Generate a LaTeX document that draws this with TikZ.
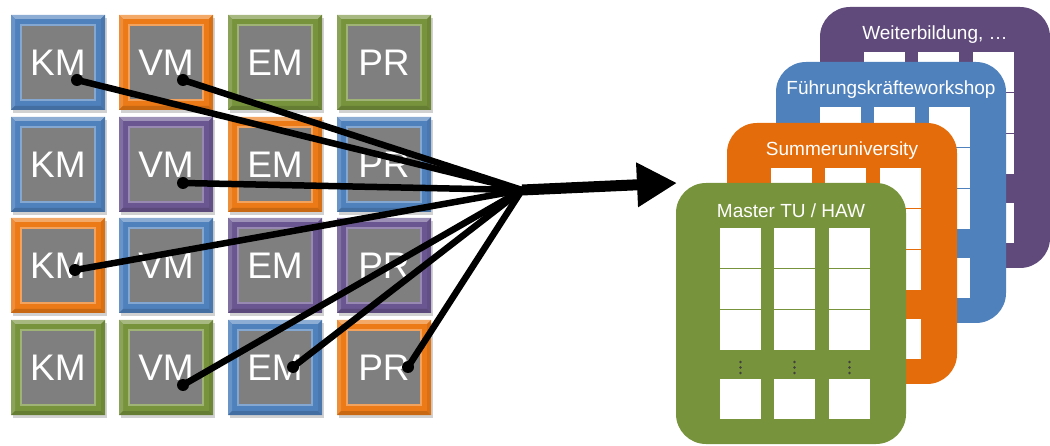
\documentclass[tikz,border=0pt]{standalone}
\usepackage{fontspec}
\setmainfont{Liberation Sans}
\usetikzlibrary{arrows.meta}
\definecolor{tblue}{HTML}{4F81BD}
\definecolor{torange}{HTML}{EC7A16}
\definecolor{tgreen}{HTML}{77933C}
\definecolor{tpurple}{HTML}{6A5690}
\definecolor{cgreen}{HTML}{77933C}
\definecolor{corange}{HTML}{E46C0A}
\definecolor{cblue}{HTML}{4F81BD}
\definecolor{cpurple}{HTML}{604A7B}
\definecolor{tgray}{HTML}{7F7F7F}
\tikzset{
  tilebox/.style={rectangle, fill=tgray, text=white, inner sep=0pt,
    minimum width=74pt, minimum height=75pt, font=\fontsize{37}{37}\selectfont},
  dotnode/.style={circle, fill=black, inner sep=0pt, minimum size=12pt},
  conn/.style={line width=6.5pt, black},
  bigarrow/.style={line width=11pt, black, -{Triangle[length=40pt,width=42pt]}},
  cardtitle/.style={text=white, inner sep=0pt, font=\fontsize{19}{19}\selectfont},
}
\newcommand\mytile[5]{% name, x, y, colour, text
  \fill[black,opacity=0.18] (#2+2,#3+3) rectangle ++(94,95);
  \fill[#4] (#2,#3) rectangle ++(94,95);
  \fill[#4!65!white] (#2,#3) -- ++(94,0) -- ++(-4,4) -- ++(-86,0) -- cycle;
  \fill[#4!85!white] (#2,#3) -- ++(4,4) -- ++(0,87) -- ++(-4,4) -- cycle;
  \fill[#4!85!black] (#2,#3+95) -- ++(94,0) -- ++(-4,-4) -- ++(-86,0) -- cycle;
  \fill[#4!92!black] (#2+94,#3) -- ++(-4,4) -- ++(0,87) -- ++(4,4) -- cycle;
  \node[tilebox, draw=#4!70!white, line width=1.2pt] (#1) at (#2+47,#3+47.5) {#5};
}
\newcommand\mycard[5]{% name, x, y, colour, title
  \fill[#4, rounded corners=30pt] (#2,#3) rectangle ++(230,261);
  \node[cardtitle] (#1) at (#2+115,#3+28) {#5};
  \foreach \cc in {44,98,153} {
    \foreach \rr in {45,86,127,196}
      \fill[white] (#2+\cc,#3+\rr) rectangle ++(41,40);
    \foreach \dd in {179,184.5,190}
      \fill[black!75] (#2+\cc+20.5,#3+\dd) circle (1.3pt);
  }
}
\begin{document}
\begin{tikzpicture}[x=1pt,y=-1pt]
\useasboundingbox (0,0) rectangle (1050,446);
% tiles: columns 11,119,228,337 ; rows 15,117,218,320
\mytile{t11}{11}{15}{tblue}{KM}
\mytile{t12}{119}{15}{torange}{VM}
\mytile{t13}{228}{15}{tgreen}{EM}
\mytile{t14}{337}{15}{tgreen}{PR}
\mytile{t21}{11}{117}{tblue}{KM}
\mytile{t22}{119}{117}{tpurple}{VM}
\mytile{t23}{228}{117}{torange}{EM}
\mytile{t24}{337}{117}{tblue}{PR}
\mytile{t31}{11}{218}{torange}{KM}
\mytile{t32}{119}{218}{tblue}{VM}
\mytile{t33}{228}{218}{tpurple}{EM}
\mytile{t34}{337}{218}{tpurple}{PR}
\mytile{t41}{11}{320}{tgreen}{KM}
\mytile{t42}{119}{320}{tgreen}{VM}
\mytile{t43}{228}{320}{tblue}{EM}
\mytile{t44}{337}{320}{torange}{PR}
% cards, back to front
\mycard{c4}{820}{7}{cpurple}{Weiterbildung, …}
\mycard{c3}{776}{62}{cblue}{Führungskräfteworkshop}
\mycard{c2}{727}{123}{corange}{Summeruniversity}
\mycard{c1}{676}{183}{cgreen}{Master TU / HAW}
% connectors
\coordinate (hub) at (522,190);
\coordinate (tip) at (677,183);
\node[dotnode] (p1) at (77,80) {};
\node[dotnode] (p2) at (183,80) {};
\node[dotnode] (p3) at (183,183) {};
\node[dotnode] (p4) at (75,270) {};
\node[dotnode] (p5) at (183,385) {};
\node[dotnode] (p6) at (293,367) {};
\node[dotnode] (p7) at (408,367) {};
\foreach \p in {p1,p2,p3,p4,p5,p6,p7}
  \draw[conn] (\p.center) -- (hub);
\draw[bigarrow] (hub) -- (tip);
\end{tikzpicture}
\end{document}
